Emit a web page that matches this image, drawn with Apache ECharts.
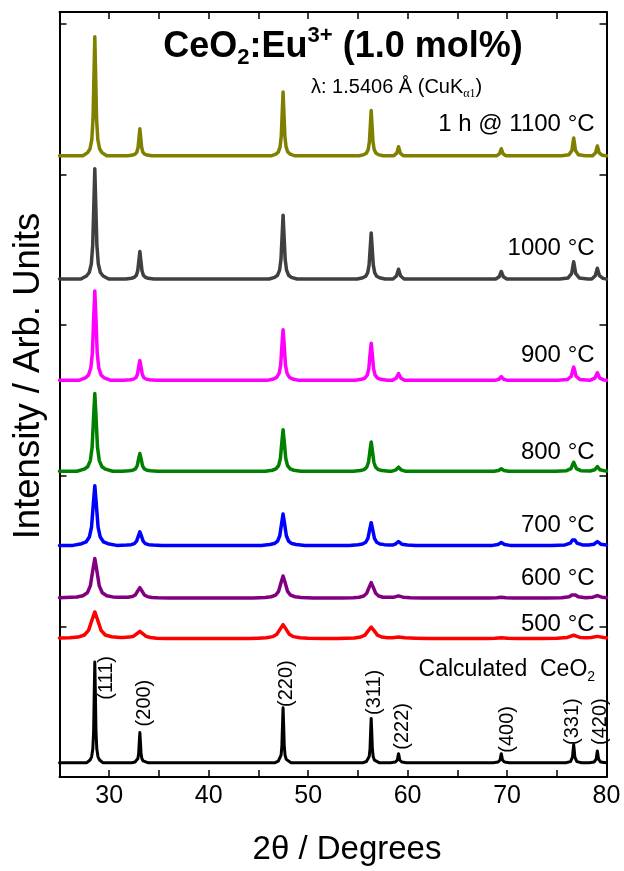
<!DOCTYPE html>
<html>
<head>
<meta charset="utf-8">
<script src="https://cdn.jsdelivr.net/npm/echarts@6/dist/echarts.min.js"></script>
<style>
html,body{margin:0;padding:0;background:#fff;}
#chart{width:624px;height:871px;}
</style>
</head>
<body>
<div id="chart"></div>
<script>
// ---- Data (2θ in degrees, intensity in arbitrary units above each pattern's baseline) ----
const patternNames = ['Calculated CeO2', '500 °C', '600 °C', '700 °C', '800 °C', '900 °C', '1000 °C', '1 h @ 1100 °C'];
const patternColors = ['#000000', '#ff0000', '#800080', '#0000ff', '#008000', '#ff00ff', '#404040', '#808000'];
const patternOffsets = [9.5, 91.9, 118.8, 153.8, 203.0, 263.4, 330.7, 412.5];
const labelPositions = [[78.9, 71.6], [78.85, 101.1], [78.85, 131.7], [78.85, 167.2], [78.85, 215.6], [78.85, 279.7], [78.85, 351.1], [78.85, 433.1]];

const hklLabels = ['(111)', '(200)', '(220)', '(311)', '(222)', '(400)', '(331)', '(420)'];
const hklLabelPositions = [[29.75, 65.8], [33.5, 49.1], [47.8, 62.0], [56.7, 56.2], [59.5, 33.6], [70.0, 31.6], [76.6, 36.8], [79.4, 36.8]];

const calcCeO2 = [
  [25,0],
  [27.75,0],[28.07,1.8],[28.23,3.9],[28.35,9.2],[28.43,20.6],[28.50,49.2],[28.55,66.9],[28.60,49.2],[28.67,20.6],[28.75,9.2],[28.87,3.9],[29.03,1.8],[29.35,0],
  [32.28,0],[32.60,0.5],[32.76,1.2],[32.88,2.8],[32.96,6.2],[33.03,14.7],[33.08,20],[33.13,14.7],[33.20,6.2],[33.28,2.8],[33.40,1.2],[33.56,0.5],[33.88,0],
  [46.68,0],[47.00,1.0],[47.16,2.2],[47.28,5.0],[47.36,11.2],[47.43,26.8],[47.48,36.5],[47.53,26.8],[47.60,11.2],[47.68,5.0],[47.80,2.2],[47.96,1.0],[48.28,0],
  [55.54,0],[55.86,0.8],[56.02,1.7],[56.14,4.1],[56.22,9.1],[56.29,21.6],[56.34,29.4],[56.39,21.6],[56.46,9.1],[56.54,4.1],[56.66,1.7],[56.82,0.8],[57.14,0],
  [58.29,0],[58.77,0.4],[58.97,1.8],[59.04,4.4],[59.09,6],[59.14,4.4],[59.21,1.8],[59.41,0.4],[59.89,0],
  [68.62,0],[69.10,0.4],[69.30,1.8],[69.37,4.4],[69.42,6],[69.47,4.4],[69.54,1.8],[69.74,0.4],[70.22,0],
  [75.90,0],[76.38,0.7],[76.58,3.7],[76.65,8.8],[76.70,12],[76.75,8.8],[76.82,3.7],[77.02,0.7],[77.50,0],
  [78.28,0],[78.76,0.5],[78.96,2.4],[79.03,5.7],[79.08,7.7],[79.13,5.7],[79.20,2.4],[79.40,0.5],[80,0]
];
const t500 = [
  [25,0.4],[26.03,0.6],[26.87,1.0],[27.50,2.4],[27.92,5.5],[28.30,13.0],[28.55,17.7],[28.80,13.0],[29.18,5.5],[29.60,2.4],[30.23,1.2],[31.07,0.8],
  [31.40,0.7],[32.03,1.0],[32.45,1.6],[32.83,3.5],[33.08,4.8],[33.33,3.5],[33.71,1.5],[34.13,0.7],[34.76,0.3],[35.6,0.15],[37.0,0],
  [44.0,0],[44.96,0.25],[45.80,0.55],[46.43,1.3],[46.85,2.9],[47.23,6.8],[47.48,9.3],[47.73,6.8],[48.11,2.9],[48.53,1.3],[49.16,0.55],[50.0,0.25],[51.5,0],
  [53.0,0],[53.82,0.2],[54.66,0.45],[55.29,1.05],[55.71,2.3],[56.09,5.6],[56.34,7.6],[56.59,5.6],[56.97,2.3],[57.39,1.05],[58.0,0.6],
  [58.46,0.6],[59.09,1.1],[59.72,0.5],[60.8,0.2],[62.0,0],
  [68.0,0],[68.79,0.2],[69.42,0.6],[70.05,0.2],[71.0,0],
  [73.5,0],[75.02,0.2],[76.07,0.8],[76.45,1.7],[76.70,2.2],[76.95,1.7],[77.33,0.8],[78.0,0.5],
  [78.45,0.7],[79.08,1.5],[79.71,0.7],[80,0.5]
];
const t600 = [
  [25,0.3],[26.75,0.7],[27.35,1.6],[27.80,3.6],[28.10,8.1],[28.37,19.3],[28.55,26.3],[28.73,19.3],[29.00,8.1],[29.30,3.6],[29.75,1.6],[30.35,0.8],[31.0,0.5],
  [31.28,0.5],[31.88,0.6],[32.33,1.1],[32.63,2.1],[32.90,5.1],[33.08,6.9],[33.26,5.1],[33.53,2.1],[33.83,1.0],[34.28,0.4],[34.88,0.2],[36.08,0],
  [44.48,0],[45.68,0.4],[46.28,0.9],[46.73,2.0],[47.03,4.5],[47.30,10.8],[47.48,14.7],[47.66,10.8],[47.93,4.5],[48.23,2.0],[48.68,0.9],[49.28,0.4],[50.48,0],
  [53.34,0],[54.54,0.3],[55.14,0.6],[55.59,1.4],[55.89,3.2],[56.16,7.6],[56.34,10.3],[56.52,7.6],[56.79,3.2],[57.09,1.4],[57.54,0.6],[58.14,0.5],
  [58.64,0.6],[59.09,1.5],[59.54,0.6],[60.29,0.2],[61.5,0],
  [68.2,0],[68.97,0.2],[69.42,0.6],[69.87,0.2],[70.6,0],
  [74.0,0],[75.50,0.2],[76.25,0.9],[76.52,2.1],[76.70,2.8],[76.88,2.1],[77.15,0.9],[77.90,0.3],
  [78.63,0.6],[79.08,1.7],[79.53,0.6],[80,0.3]
];
const t700 = [
  [25,0],
  [26.35,0],[27.23,1.1],[27.67,2.3],[28.00,5.5],[28.22,12.2],[28.42,29.1],[28.55,39.6],[28.68,29.1],[28.88,12.2],[29.10,5.5],[29.43,2.3],[29.87,1.1],[30.75,0],
  [30.88,0],[31.76,0.2],[32.20,0.5],[32.53,1.2],[32.75,2.8],[32.95,6.6],[33.08,9.0],[33.21,6.6],[33.41,2.8],[33.63,1.2],[33.96,0.5],[34.40,0.2],[35.28,0],
  [45.28,0],[46.16,0.6],[46.60,1.2],[46.93,2.9],[47.15,6.4],[47.35,15.4],[47.48,20.9],[47.61,15.4],[47.81,6.4],[48.03,2.9],[48.36,1.2],[48.80,0.6],[49.68,0],
  [54.14,0],[55.02,0.4],[55.46,0.9],[55.79,2.1],[56.01,4.7],[56.21,11.1],[56.34,15.1],[56.47,11.1],[56.67,4.7],[56.89,2.1],[57.22,0.9],[57.66,0.5],[58.20,0.3],
  [58.54,0.3],[58.76,0.8],[59.09,2.6],[59.42,0.8],[59.97,0.2],[60.8,0],
  [68.54,0],[69.09,0.6],[69.42,1.9],[69.75,0.6],[70.30,0],
  [74.50,0],[75.82,0.3],[76.37,1.5],[76.57,3.5],[76.70,4.8],[76.83,3.5],[77.03,1.5],[77.58,0.3],[78.20,0.3],
  [78.75,0.8],[79.08,2.6],[79.41,0.8],[80,0.3]
];
const t800 = [
  [25,0],
  [26.75,0],[27.47,1.4],[27.83,3.0],[28.10,7.1],[28.28,15.9],[28.44,37.9],[28.55,51.6],[28.66,37.9],[28.82,15.9],[29.00,7.1],[29.27,3.0],[29.63,1.4],[30.35,0],
  [31.28,0],[32.00,0.3],[32.36,0.7],[32.63,1.6],[32.81,3.6],[32.97,8.7],[33.08,11.8],[33.19,8.7],[33.35,3.6],[33.53,1.6],[33.80,0.7],[34.16,0.3],[34.88,0],
  [45.68,0],[46.40,0.7],[46.76,1.6],[47.03,3.8],[47.21,8.5],[47.37,20.3],[47.48,27.6],[47.59,20.3],[47.75,8.5],[47.93,3.8],[48.20,1.6],[48.56,0.7],[49.28,0],
  [54.54,0],[55.26,0.5],[55.62,1.1],[55.89,2.7],[56.07,6.0],[56.23,14.3],[56.34,19.4],[56.45,14.3],[56.61,6.0],[56.79,2.7],[57.06,1.1],[57.42,0.5],[58.14,0],
  [58.37,0],[58.82,0.9],[59.09,2.8],[59.36,0.9],[59.81,0],
  [68.70,0],[69.15,0.5],[69.42,1.7],[69.69,0.5],[70.14,0],
  [74.90,0],[75.98,0.4],[76.43,1.8],[76.59,4.4],[76.70,6.0],[76.81,4.4],[76.97,1.8],[77.42,0.4],
  [78.36,0.2],[78.81,1.0],[79.08,3.2],[79.35,1.0],[79.80,0.3],[80,0.2]
];
const t900 = [
  [25,0],
  [26.95,0],[27.59,1.6],[27.91,3.5],[28.15,8.2],[28.31,18.3],[28.45,43.7],[28.55,59.4],[28.65,43.7],[28.79,18.3],[28.95,8.2],[29.19,3.5],[29.51,1.6],[30.15,0],
  [31.48,0],[32.12,0.4],[32.44,0.8],[32.68,1.8],[32.84,4.0],[32.98,9.6],[33.08,13.1],[33.18,9.6],[33.32,4.0],[33.48,1.8],[33.72,0.8],[34.04,0.4],[34.68,0],
  [45.88,0],[46.52,0.9],[46.84,2.0],[47.08,4.6],[47.24,10.3],[47.38,24.7],[47.48,33.6],[47.58,24.7],[47.72,10.3],[47.88,4.6],[48.12,2.0],[48.44,0.9],[49.08,0],
  [54.74,0],[55.38,0.7],[55.70,1.5],[55.94,3.4],[56.10,7.6],[56.24,18.2],[56.34,24.7],[56.44,18.2],[56.58,7.6],[56.74,3.4],[56.98,1.5],[57.30,0.7],[57.94,0],
  [58.45,0],[58.85,1.4],[59.09,4.5],[59.33,1.4],[59.73,0],
  [68.78,0],[69.18,0.7],[69.42,2.4],[69.66,0.7],[70.06,0],
  [75.10,0],[76.06,0.5],[76.46,2.7],[76.60,6.5],[76.70,8.8],[76.80,6.5],[76.94,2.7],[77.34,0.5],[78.30,0],
  [78.44,0],[78.84,1.5],[79.08,5],[79.32,1.5],[79.72,0.3],[80,0.1]
];
const t1000 = [
  [25,0],
  [27.15,0],[27.71,2.0],[27.99,4.3],[28.20,10.1],[28.34,22.5],[28.47,53.8],[28.55,73.2],[28.63,53.8],[28.76,22.5],[28.90,10.1],[29.11,4.3],[29.39,2.0],[29.95,0],
  [31.68,0],[32.24,0.5],[32.52,1.1],[32.73,2.5],[32.87,5.6],[33.00,13.5],[33.08,18.3],[33.16,13.5],[33.29,5.6],[33.43,2.5],[33.64,1.1],[33.92,0.5],[34.48,0],
  [46.08,0],[46.64,1.1],[46.92,2.5],[47.13,5.9],[47.27,13.1],[47.40,31.2],[47.48,42.4],[47.56,31.2],[47.69,13.1],[47.83,5.9],[48.04,2.5],[48.32,1.1],[48.88,0],
  [54.94,0],[55.50,0.8],[55.78,1.8],[55.99,4.2],[56.13,9.4],[56.26,22.5],[56.34,30.6],[56.42,22.5],[56.55,9.4],[56.69,4.2],[56.90,1.8],[57.18,0.8],[57.74,0],
  [58.53,0],[58.88,2],[59.09,6.5],[59.30,2],[59.65,0],
  [68.86,0],[69.21,1.5],[69.42,5],[69.63,1.5],[69.98,0],
  [75.30,0],[76.14,0.7],[76.49,3.5],[76.62,8.4],[76.70,11.4],[76.78,8.4],[76.91,3.5],[77.26,0.7],[78.10,0],
  [78.52,0],[78.87,2.2],[79.08,7.1],[79.29,2.2],[79.64,0.4],[80,0]
];
const t1100 = [
  [25,0],
  [27.35,0],[27.83,2.1],[28.07,4.7],[28.25,10.9],[28.37,24.3],[28.48,58.1],[28.55,79],[28.62,58.1],[28.73,24.3],[28.85,10.9],[29.03,4.7],[29.27,2.1],[29.75,0],
  [31.88,0],[32.36,0.5],[32.60,1.1],[32.78,2.5],[32.90,5.5],[33.01,13.2],[33.08,17.9],[33.15,13.2],[33.26,5.5],[33.38,2.5],[33.56,1.1],[33.80,0.5],[34.28,0],
  [46.28,0],[46.76,1.1],[47.00,2.5],[47.18,5.9],[47.30,13.1],[47.41,31.2],[47.48,42.4],[47.55,31.2],[47.66,13.1],[47.78,5.9],[47.96,2.5],[48.20,1.1],[48.68,0],
  [55.14,0],[55.62,0.8],[55.86,1.8],[56.04,4.2],[56.16,9.3],[56.27,22.1],[56.34,30.1],[56.41,22.1],[56.52,9.3],[56.64,4.2],[56.82,1.8],[57.06,0.8],[57.54,0],
  [58.61,0],[58.91,1.8],[59.09,6],[59.27,1.8],[59.57,0],
  [68.94,0],[69.24,1.4],[69.42,4.7],[69.60,1.4],[69.90,0],
  [75.50,0],[76.22,0.7],[76.52,3.6],[76.63,8.7],[76.70,11.8],[76.77,8.7],[76.88,3.6],[77.18,0.7],[77.90,0],
  [78.60,0],[78.90,2],[79.08,6.5],[79.26,2],[79.56,0.4],[80,0]
];
const patterns = [calcCeO2, t500, t600, t700, t800, t900, t1000, t1100];

const xTickValues = { min: 25, max: 80, interval: 5 };
const yTickValues = { min: 0, max: 508, interval: 100 };

// ---- Chart ----
const FONT = 'Liberation Sans, Arial, Helvetica, sans-serif';
const chart = echarts.init(document.getElementById('chart'), null, { renderer: 'canvas' });

function axisCommon(extra) {
  return Object.assign({
    type: 'value',
    axisLine: { show: true, onZero: false, lineStyle: { color: '#000', width: 2 } },
    axisTick: { show: true, inside: true, length: 7, lineStyle: { color: '#000', width: 1.5 } },
    splitLine: { show: false },
    minorTick: { show: false }
  }, extra);
}

const series = patterns.map((pts, i) => {
  const isCalc = i === 0;
  const s = {
    name: patternNames[i],
    type: 'line',
    xAxisIndex: 0,
    yAxisIndex: 0,
    showSymbol: false,
    symbol: 'none',
    smooth: false,
    animation: false,
    silent: true,
    z: 2 + i,
    lineStyle: { color: patternColors[i], width: isCalc ? 3 : 3.5, join: 'round', cap: 'round' },
    itemStyle: { color: patternColors[i] },
    data: pts.map(p => [p[0], p[1] + patternOffsets[i]]),
    markPoint: {
      symbol: 'circle',
      symbolSize: 1,
      silent: true,
      animation: false,
      itemStyle: { color: 'rgba(0,0,0,0)' },
      label: {
        show: true,
        position: 'left',
        distance: 0,
        color: '#000',
        fontFamily: FONT,
        fontSize: 24,
        formatter: isCalc ? '{a|Calculated  CeO}{s|2}' : patternNames[i],
        rich: isCalc ? {
          a: { fontFamily: FONT, fontSize: 23, color: '#000', lineHeight: 30 },
          s: { fontFamily: FONT, fontSize: 14, color: '#000', lineHeight: 10, verticalAlign: 'bottom' }
        } : undefined
      },
      data: [{ coord: labelPositions[i] }]
    }
  };
  if (isCalc) {
    s.markPoint.data = s.markPoint.data.concat(hklLabels.map((t, k) => ({
      coord: hklLabelPositions[k],
      label: { show: true, position: 'inside', rotate: 90, formatter: t, fontSize: 20, fontFamily: FONT, color: '#000' }
    })));
  }
  return s;
});

const option = {
  backgroundColor: '#fff',
  animation: false,
  grid: { left: 59.5, right: 17.5, top: 12, bottom: 72, containLabel: false },
  xAxis: [
    axisCommon({
      position: 'bottom',
      min: xTickValues.min, max: xTickValues.max, interval: xTickValues.interval,
      axisLabel: {
        show: true, color: '#000', fontFamily: FONT, fontSize: 25, margin: 7,
        formatter: v => (v % 10 === 0 ? String(v) : '')
      },
      name: '2θ / Degrees',
      nameLocation: 'middle',
      nameGap: 56,
      nameTextStyle: { color: '#000', fontFamily: FONT, fontSize: 33, padding: [0, 0, 0, 28] }
    }),
    axisCommon({
      position: 'top',
      min: xTickValues.min, max: xTickValues.max, interval: xTickValues.interval,
      axisLabel: { show: false }
    })
  ],
  yAxis: [
    axisCommon({
      position: 'left',
      min: yTickValues.min, max: yTickValues.max, interval: yTickValues.interval,
      axisLabel: { show: false }
    }),
    axisCommon({
      position: 'right',
      min: yTickValues.min, max: yTickValues.max, interval: yTickValues.interval,
      axisLabel: { show: false }
    })
  ],
  graphic: [
    {
      type: 'text',
      x: 343, y: 47,
      style: {
        text: '{b|CeO}{sub|2}{b|:Eu}{sup|3+}{b| (1.0 mol%)}',
        align: 'center', verticalAlign: 'middle',
        rich: {
          b: { fontFamily: FONT, fontWeight: 'bold', fontSize: 36, lineHeight: 44, color: '#000' },
          sub: { fontFamily: FONT, fontWeight: 'bold', fontSize: 22, lineHeight: 16, verticalAlign: 'bottom', color: '#000' },
          sup: { fontFamily: FONT, fontWeight: 'bold', fontSize: 22, lineHeight: 26, verticalAlign: 'top', color: '#000' }
        }
      }
    },
    {
      type: 'text',
      x: 311, y: 87,
      style: {
        text: '{n|λ: 1.5406 Å (CuK}{s|α1}{n|)}',
        align: 'left', verticalAlign: 'middle',
        rich: {
          n: { fontFamily: FONT, fontSize: 20, lineHeight: 26, color: '#000' },
          s: { fontFamily: 'Liberation Serif, Times New Roman, serif', fontSize: 12, lineHeight: 8, verticalAlign: 'bottom', color: '#000' }
        }
      }
    },
    {
      type: 'text',
      x: 29, y: 376,
      rotation: Math.PI / 2,
      style: {
        text: 'Intensity / Arb. Units',
        fontFamily: FONT, fontSize: 36.5, fill: '#000',
        align: 'center', verticalAlign: 'middle'
      }
    }
  ],
  series: series
};

chart.setOption(option);
</script>
</body>
</html>
